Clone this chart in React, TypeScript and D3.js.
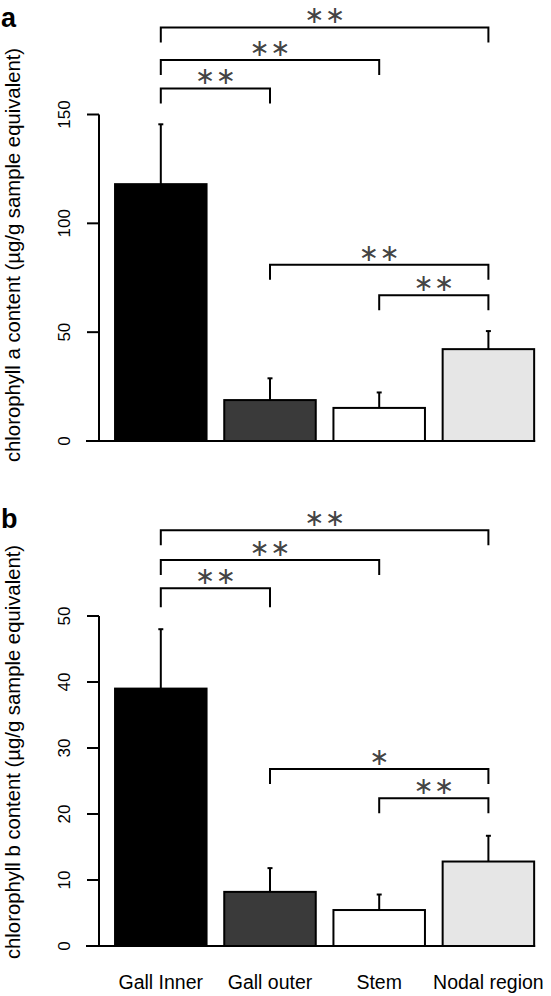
import React from "react";
import * as d3 from "d3";

const categories = ["Gall Inner", "Gall outer", "Stem", "Nodal region"];
const fills = ["#000000", "#3a3a3a", "#ffffff", "#e6e6e6"];

const chlA = [118, 18.8, 15.2, 42.2];
const chlAErr = [27.5, 10, 7.1, 8.3];
const ticksA = [0, 50, 100, 150];

const chlB = [39, 8.2, 5.45, 12.8];
const chlBErr = [9, 3.6, 2.35, 3.9];
const ticksB = [0, 10, 20, 30, 40, 50];

// comparisons: [from index, to index, significance]
const compA: [number, number, string][] = [
  [0, 3, "**"],
  [0, 2, "**"],
  [0, 1, "**"],
  [1, 3, "**"],
  [2, 3, "**"],
];
const compB: [number, number, string][] = [
  [0, 3, "**"],
  [0, 2, "**"],
  [0, 1, "**"],
  [1, 3, "*"],
  [2, 3, "**"],
];
// bracket heights in data units
const bracketA = [190, 175, 162, 81, 67];
const bracketB = [63, 58.5, 54.2, 26.8, 22.4];
const legA = [15, 15, 15, 15, 15];
const legB = [15, 15, 19, 15, 15];

const FONT = "'Liberation Sans', Arial, Helvetica, sans-serif";

function Panel({
  values, errs, ticks, domainMax, y0, y1, title, titleY, letter, letterY,
  comps, bHeights, legs,
}: any) {
  const x = d3
    .scaleBand<string>()
    .domain(categories)
    .range([106.2, 543])
    .paddingInner(0.162)
    .paddingOuter(0.081);
  const y = d3.scaleLinear().domain([0, domainMax]).range([y0, y1]);
  const cx = (i: number) => (x(categories[i]) as number) + x.bandwidth() / 2;
  const axisX = 99;
  const lastRight = (x(categories[3]) as number) + x.bandwidth();
  return (
    <g>
      <text x={1} y={letterY} fontFamily={FONT} fontWeight="bold" fontSize={27}>
        {letter}
      </text>
      <text
        transform={`translate(19.5,${titleY}) rotate(-90)`}
        textAnchor="middle"
        fontFamily={FONT}
        fontSize={20.3}
      >
        {title}
      </text>
      {/* y axis */}
      <line x1={axisX} x2={axisX} y1={y(0)} y2={y(domainMax)} stroke="#000" strokeWidth={2} />
      {ticks.map((t: number) => (
        <g key={t}>
          <line x1={87} x2={axisX} y1={y(t)} y2={y(t)} stroke="#000" strokeWidth={2} />
          <text
            transform={`translate(69.5,${y(t)}) rotate(-90)`}
            textAnchor="middle"
            fontFamily={FONT}
            fontSize={17}
          >
            {t}
          </text>
        </g>
      ))}
      {/* baseline */}
      <line x1={86} x2={lastRight + 1} y1={y(0)} y2={y(0)} stroke="#000" strokeWidth={2} />
      {/* bars */}
      {values.map((v: number, i: number) => (
        <g key={i}>
          <line
            x1={cx(i)}
            x2={cx(i)}
            y1={y(v)}
            y2={y(v + errs[i])}
            stroke="#000"
            strokeWidth={2}
          />
          <line
            x1={cx(i) - 2.5}
            x2={cx(i) + 2.5}
            y1={y(v + errs[i])}
            y2={y(v + errs[i])}
            stroke="#000"
            strokeWidth={2}
          />
          <rect
            x={x(categories[i])}
            y={y(v)}
            width={x.bandwidth()}
            height={y(0) - y(v)}
            fill={fills[i]}
            stroke="#000"
            strokeWidth={2}
          />
        </g>
      ))}
      {/* brackets */}
      {comps.map((c: [number, number, string], k: number) => {
        const yy = y(bHeights[k]);
        const xa = cx(c[0]);
        const xb = cx(c[1]);
        const mid = (xa + xb) / 2;
        const n = c[2].length;
        return (
          <g key={k}>
            <path
              d={`M${xa},${yy + legs[k]}V${yy}H${xb}V${yy + legs[k]}`}
              fill="none"
              stroke="#000"
              strokeWidth={2}
            />
            {Array.from({ length: n }).map((_, j) => (
              <text
                key={j}
                x={mid + (j - (n - 1) / 2) * 20.7}
                y={yy - 12}
                textAnchor="middle"
                dominantBaseline="central"
                fontFamily="'DejaVu Sans', sans-serif"
                fontSize={24}
                fill="#444"
              >
                {"\u2217"}
              </text>
            ))}
          </g>
        );
      })}
    </g>
  );
}

export default function App() {
  return (
    <svg
      width={551}
      height={996}
      style={{ position: "absolute", left: 0, top: 0, background: "#fff" }}
    >
      <rect width={551} height={996} fill="#fff" />
      <Panel
        values={chlA}
        errs={chlAErr}
        ticks={ticksA}
        domainMax={150}
        y0={441}
        y1={114.5}
        title="chlorophyll a content (µg/g sample equivalent)"
        titleY={255}
        letter="a"
        letterY={27}
        comps={compA}
        bHeights={bracketA}
        legs={legA}
      />
      <Panel
        values={chlB}
        errs={chlBErr}
        ticks={ticksB}
        domainMax={50}
        y0={946}
        y1={616}
        title="chlorophyll b content (µg/g sample equivalent)"
        titleY={752}
        letter="b"
        letterY={528}
        comps={compB}
        bHeights={bracketB}
        legs={legB}
      />
      {categories.map((c, i) => (
        <text
          key={c}
          x={106.2 + 109.2 * 0.081 + 109.2 * i + 91.5 / 2}
          y={989}
          textAnchor="middle"
          fontFamily={FONT}
          fontSize={19.5}
        >
          {c}
        </text>
      ))}
    </svg>
  );
}
